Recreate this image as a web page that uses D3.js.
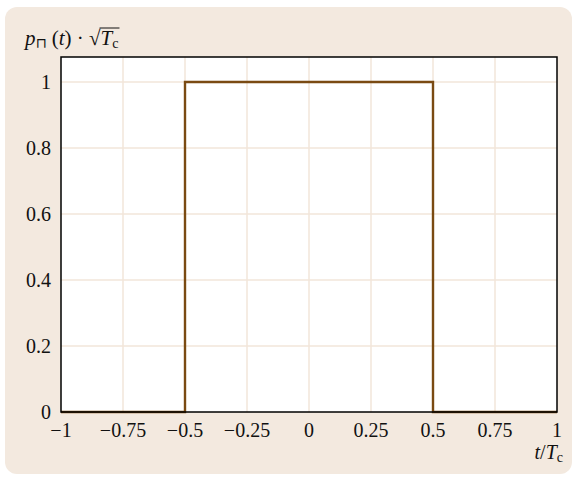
<!DOCTYPE html>
<html><head><meta charset="utf-8">
<script src="https://cdn.jsdelivr.net/npm/d3@7"></script>
<style>
html,body{margin:0;padding:0;background:#fff;}
svg text{font-family:"Liberation Serif","Times New Roman",serif;fill:#111;}
</style></head>
<body><svg id="c" width="577" height="477"></svg>
<script>
const xTicks = [-1, -0.75, -0.5, -0.25, 0, 0.25, 0.5, 0.75, 1];
const xTickLabels = ["\u22121", "\u22120.75", "\u22120.5", "\u22120.25", "0", "0.25", "0.5", "0.75", "1"];
const yTicks = [0, 0.2, 0.4, 0.6, 0.8, 1];
const yTickLabels = ["0", "0.2", "0.4", "0.6", "0.8", "1"];
const pulseT = [-1, -0.5, -0.5, 0.5, 0.5, 1];
const pulseP = [0, 0, 1, 1, 0, 0];

const svg = d3.select("#c");
svg.append("rect").attr("x",5).attr("y",7).attr("width",567).attr("height",467)
  .attr("rx",12).attr("fill","#f3e9df");

const m = {l:61, r:557, t:57, b:412};
const x = d3.scaleLinear().domain([-1,1]).range([m.l,m.r]);
const y = d3.scaleLinear().domain([0,1.076]).range([m.b,m.t]);

svg.append("rect").attr("x",m.l).attr("y",m.t).attr("width",m.r-m.l).attr("height",m.b-m.t).attr("fill","#fff");

const g = svg.append("g");
g.selectAll(".vg").data(xTicks.slice(1,-1)).enter().append("line")
  .attr("x1",d=>x(d)).attr("x2",d=>x(d)).attr("y1",m.t).attr("y2",m.b)
  .attr("stroke","#f2e6da").attr("stroke-width",1.5);
g.selectAll(".hg").data(yTicks.slice(1)).enter().append("line")
  .attr("x1",m.l).attr("x2",m.r).attr("y1",d=>y(d)).attr("y2",d=>y(d))
  .attr("stroke","#f2e6da").attr("stroke-width",1.5);

const pts = pulseT.map((t,i)=>[t,pulseP[i]]);
svg.append("path").datum(pts)
  .attr("d", d3.line().x(d=>x(d[0])).y(d=>y(d[1])))
  .attr("fill","none").attr("stroke","#7a4a12").attr("stroke-width",2.4);

svg.append("rect").attr("x",m.l).attr("y",m.t).attr("width",m.r-m.l).attr("height",m.b-m.t)
  .attr("fill","none").attr("stroke","#000").attr("stroke-width",1.5);

svg.selectAll(".xt").data(xTicks).enter().append("text")
  .attr("x",(d)=>x(d)).attr("y",437).attr("text-anchor","middle")
  .attr("font-size",20).text((d,i)=>xTickLabels[i]);
svg.selectAll(".yt").data(yTicks).enter().append("text")
  .attr("x",51).attr("y",d=>y(d)+7).attr("text-anchor","end")
  .attr("font-size",20).text((d,i)=>yTickLabels[i]);

// x-axis label
const xl = svg.append("text").attr("x",563).attr("y",459).attr("text-anchor","end").attr("font-size",20);
xl.append("tspan").attr("font-style","italic").text("t");
xl.append("tspan").text("/");
xl.append("tspan").attr("font-style","italic").text("T");
xl.append("tspan").attr("font-size",14).attr("dy",3).text("c");

// y-axis label
const yl = svg.append("text").attr("x",25).attr("y",45).attr("font-size",21);
yl.append("tspan").attr("font-style","italic").text("p");
yl.append("tspan").attr("font-size",14).attr("dy",3).attr("font-family","DejaVu Sans").text("\u2293");
yl.append("tspan").attr("dy",-3).text(" (");
yl.append("tspan").attr("font-style","italic").text("t");
yl.append("tspan").text(") \u00b7 ");
const sq = yl.append("tspan").text("\u221a");
yl.append("tspan").attr("font-style","italic").text("T");
yl.append("tspan").attr("font-size",14).attr("dy",3).text("c");
// overline of sqrt
const node = yl.node();
const full = node.textContent;
const si = full.indexOf("\u221a");
const ext = node.getExtentOfChar(si);
const endExt = node.getExtentOfChar(full.length-1);
svg.append("line").attr("x1",ext.x+ext.width-1).attr("x2",endExt.x+endExt.width+1)
  .attr("y1",ext.y+2).attr("y2",ext.y+2).attr("stroke","#111").attr("stroke-width",1);
</script></body></html>
